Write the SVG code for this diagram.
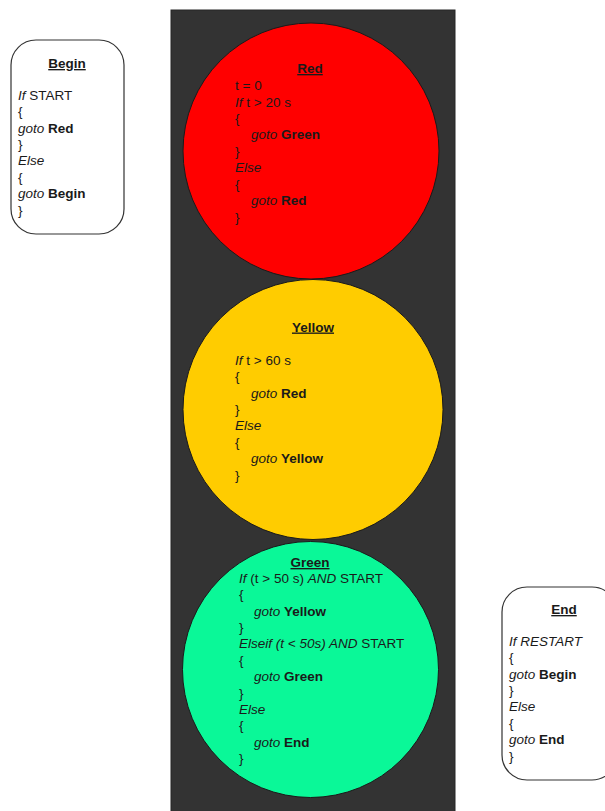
<svg xmlns="http://www.w3.org/2000/svg" width="605" height="811" viewBox="0 0 605 811">
<style>
text{font-family:"Liberation Sans",Arial,sans-serif;font-size:13.5px;fill:#1a1a1a}
.t{font-weight:bold;text-decoration:underline;text-anchor:middle}
.i{font-style:italic}
.b{font-weight:bold}
.box{fill:#ffffff;stroke:#333333;stroke-width:1.2}
.lamp{stroke:#1a1a1a;stroke-width:1}
</style>
<rect id="housing" x="171" y="10" width="284" height="810" fill="#333333" stroke="#262626" stroke-width="1"/>
<g id="connectors"></g>
<g id="begin">
<rect class="box" x="11" y="40" width="113" height="194" rx="25" ry="25"/>
<text class="t" x="67" y="68">Begin</text>
<text x="18" y="100"><tspan class="i">If</tspan> START</text>
<text x="18" y="116">{</text>
<text x="18" y="133"><tspan class="i">goto</tspan> <tspan class="b">Red</tspan></text>
<text x="18" y="149">}</text>
<text x="18" y="165" class="i">Else</text>
<text x="18" y="182">{</text>
<text x="18" y="198"><tspan class="i">goto</tspan> <tspan class="b">Begin</tspan></text>
<text x="18" y="215">}</text>
</g>
<g id="red">
<circle class="lamp" cx="311" cy="151" r="128" fill="#ff0000"/>
<text class="t" x="310" y="73">Red</text>
<text x="235" y="90">t = 0</text>
<text x="235" y="106.5"><tspan class="i">If</tspan> t &gt; 20 s</text>
<text x="235" y="123">{</text>
<text x="251" y="139"><tspan class="i">goto</tspan> <tspan class="b">Green</tspan></text>
<text x="235" y="155.5">}</text>
<text x="235" y="172" class="i">Else</text>
<text x="235" y="188.5">{</text>
<text x="251" y="205"><tspan class="i">goto</tspan> <tspan class="b">Red</tspan></text>
<text x="235" y="221.5">}</text>
</g>
<g id="yellow">
<circle class="lamp" cx="313" cy="409.5" r="130" fill="#ffcc00"/>
<text class="t" x="313" y="331.5">Yellow</text>
<text x="235" y="364.5"><tspan class="i">If</tspan> t &gt; 60 s</text>
<text x="235" y="381">{</text>
<text x="251" y="397.5"><tspan class="i">goto</tspan> <tspan class="b">Red</tspan></text>
<text x="235" y="413.5">}</text>
<text x="235" y="430" class="i">Else</text>
<text x="235" y="446.5">{</text>
<text x="251" y="463"><tspan class="i">goto</tspan> <tspan class="b">Yellow</tspan></text>
<text x="235" y="479.5">}</text>
</g>
<g id="green">
<circle class="lamp" cx="310.5" cy="669.5" r="128" fill="#0af898"/>
<text class="t" x="310" y="567">Green</text>
<text x="239" y="582.5"><tspan class="i">If</tspan> (t &gt; 50 s) <tspan class="i">AND</tspan> START</text>
<text x="239" y="599">{</text>
<text x="254" y="615.5"><tspan class="i">goto</tspan> <tspan class="b">Yellow</tspan></text>
<text x="239" y="631.5">}</text>
<text x="239" y="648"><tspan class="i">Elseif (t &lt; 50s) AND</tspan> START</text>
<text x="239" y="664.5">{</text>
<text x="254" y="681"><tspan class="i">goto</tspan> <tspan class="b">Green</tspan></text>
<text x="239" y="697.5">}</text>
<text x="239" y="714" class="i">Else</text>
<text x="239" y="730">{</text>
<text x="254" y="746.5"><tspan class="i">goto</tspan> <tspan class="b">End</tspan></text>
<text x="239" y="763">}</text>
</g>
<g id="end">
<rect class="box" x="502" y="587" width="115" height="193" rx="25" ry="25"/>
<text class="t" x="564" y="614">End</text>
<text x="509" y="645.5" class="i">If RESTART</text>
<text x="509" y="662">{</text>
<text x="509" y="678.5"><tspan class="i">goto</tspan> <tspan class="b">Begin</tspan></text>
<text x="509" y="695">}</text>
<text x="509" y="711" class="i">Else</text>
<text x="509" y="727.5">{</text>
<text x="509" y="744"><tspan class="i">goto</tspan> <tspan class="b">End</tspan></text>
<text x="509" y="760.5">}</text>
</g>
</svg>
